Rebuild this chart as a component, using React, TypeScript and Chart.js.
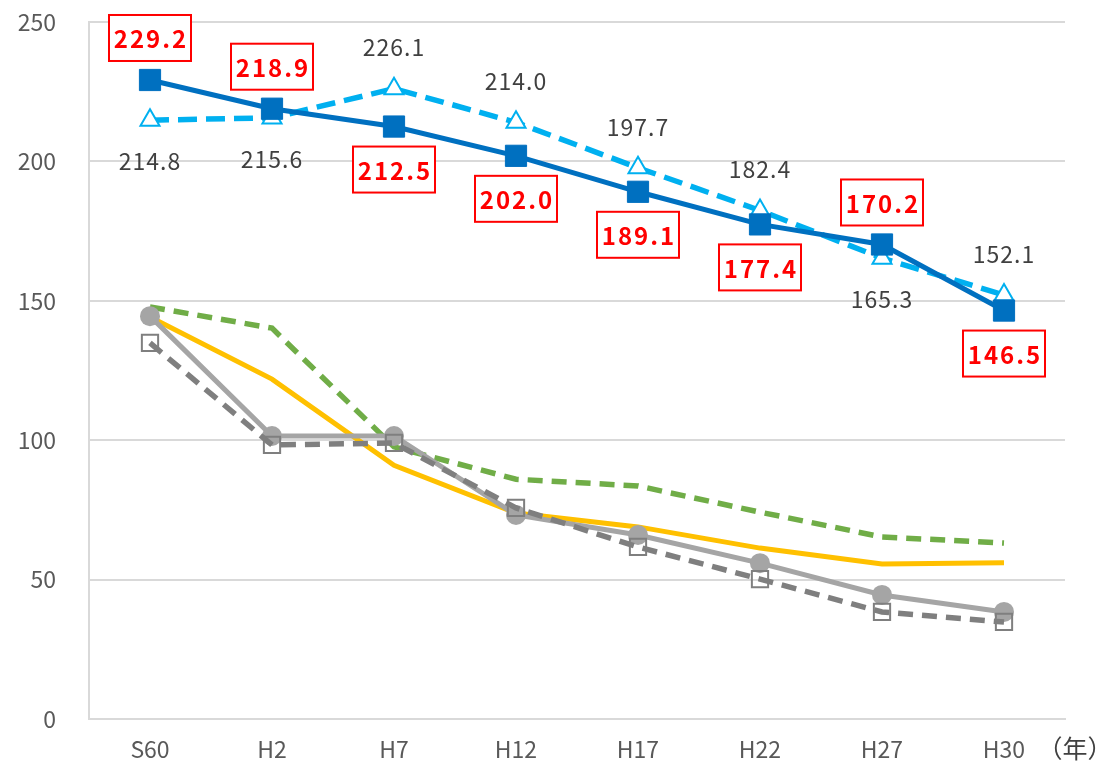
import React, { useEffect, useRef } from 'react';
import { Chart, registerables } from 'chart.js';

Chart.register(...registerables);

const categories = ['S60', 'H2', 'H7', 'H12', 'H17', 'H22', 'H27', 'H30'];
const seriesDarkBlue = [229.2, 218.9, 212.5, 202.0, 189.1, 177.4, 170.2, 146.5];
const seriesLightBlue = [214.8, 215.6, 226.1, 214.0, 197.7, 182.4, 165.3, 152.1];
const seriesGreen = [147.8, 140.2, 97.6, 86.0, 83.6, 74.2, 65.3, 63.1];
const seriesYellow = [144.2, 121.9, 91.0, 73.9, 68.9, 61.3, 55.6, 56.0];
const seriesGray = [144.5, 101.5, 101.5, 73.2, 66.0, 55.9, 44.5, 38.4];
const seriesDarkGray = [134.9, 98.3, 99.0, 75.7, 61.7, 50.2, 38.4, 34.8];
const labelPosDarkBlue = ['above', 'above', 'below', 'below', 'below', 'below', 'above', 'below'];
const labelPosLightBlue = ['below', 'below', 'above', 'above', 'above', 'above', 'below', 'above'];
const yMin = 0;
const yMax = 250;
const yStep = 50;
const unitLabel = '（年）';

const FONT = '"Noto Sans CJK JP", "Noto Sans", sans-serif';

const labelPlugin = {
  id: 'valueLabels',
  afterDatasetsDraw(chart: any) {
    const ctx = chart.ctx;
    const metaA = chart.getDatasetMeta(0);
    const metaB = chart.getDatasetMeta(1);
    ctx.save();
    ctx.textAlign = 'center';
    ctx.textBaseline = 'middle';
    ctx.font = `23px ${FONT}`;
    ctx.fillStyle = '#404040';
    (ctx as any).letterSpacing = '1px';
    metaB.data.forEach((pt: any, i: number) => {
      const dy = labelPosLightBlue[i] === 'above' ? -41 : 41;
      ctx.fillText(seriesLightBlue[i].toFixed(1), pt.x, pt.y + dy);
    });
    ctx.font = `bold 24px ${FONT}`;
    (ctx as any).letterSpacing = '2px';
    metaA.data.forEach((pt: any, i: number) => {
      const dy = labelPosDarkBlue[i] === 'above' ? -42 : 43;
      const cx = pt.x;
      const cy = pt.y + dy;
      const w = 82;
      const h = 46;
      ctx.fillStyle = '#ffffff';
      ctx.fillRect(cx - w / 2, cy - h / 2, w, h);
      ctx.strokeStyle = '#ff0000';
      ctx.lineWidth = 2;
      ctx.strokeRect(cx - w / 2, cy - h / 2, w, h);
      ctx.fillStyle = '#ff0000';
      ctx.fillText(seriesDarkBlue[i].toFixed(1), cx + 1, cy + 1);
    });
    ctx.restore();
  },
  afterDraw(chart: any) {
    const ctx = chart.ctx;
    ctx.save();
    ctx.font = '25px "Noto Sans CJK JP"';
    ctx.fillStyle = '#404040';
    ctx.textAlign = 'center';
    ctx.textBaseline = 'middle';
    ctx.fillText(unitLabel, 1075, 748);
    ctx.restore();
  },
};

export default function App() {
  const ref = useRef<HTMLCanvasElement | null>(null);
  useEffect(() => {
    document.body.style.margin = '0';
    if (!ref.current) return;
    const chart = new Chart(ref.current, {
      type: 'line',
      data: {
        labels: categories,
        datasets: [
          {
            data: seriesDarkBlue,
            borderColor: '#0070C0',
            borderWidth: 5,
            pointStyle: 'rect',
            pointRadius: 15,
            pointBackgroundColor: '#0070C0',
            pointBorderColor: '#0070C0',
            pointBorderWidth: 1,
            tension: 0,
          },
          {
            data: seriesLightBlue,
            borderColor: '#00B0F0',
            borderWidth: 5.5,
            borderDash: [19, 9],
            borderCapStyle: 'butt',
            pointStyle: 'triangle',
            pointRadius: 11,
            pointBackgroundColor: '#ffffff',
            pointBorderColor: '#00B0F0',
            pointBorderWidth: 2,
            tension: 0,
          },
          {
            data: seriesDarkGray,
            borderColor: '#7F7F7F',
            borderWidth: 5.5,
            borderDash: [15, 9],
            borderCapStyle: 'butt',
            pointStyle: 'rect',
            pointRadius: 11.5,
            pointBackgroundColor: 'rgba(255,255,255,0)',
            pointBorderColor: '#7F7F7F',
            pointBorderWidth: 2,
            tension: 0,
          },
          {
            data: seriesGray,
            borderColor: '#A5A5A5',
            borderWidth: 5,
            pointStyle: 'circle',
            pointRadius: 10,
            pointBackgroundColor: '#A5A5A5',
            pointBorderColor: '#A5A5A5',
            pointBorderWidth: 0,
            tension: 0,
          },
          {
            data: seriesYellow,
            borderColor: '#FFC000',
            borderWidth: 5,
            pointRadius: 0,
            tension: 0,
          },
          {
            data: seriesGreen,
            borderColor: '#70AD47',
            borderWidth: 5.5,
            borderDash: [15, 9],
            borderCapStyle: 'butt',
            pointRadius: 0,
            tension: 0,
          },
        ],
      },
      options: {
        animation: false,
        responsive: false,
        devicePixelRatio: 1,
        layout: { autoPadding: false, padding: { left: 0, top: 22, right: 43, bottom: 0 } },
        plugins: {
          legend: { display: false },
          tooltip: { enabled: false },
        },
        scales: {
          x: {
            offset: true,
            grid: { display: false, drawTicks: false },
            border: { display: true, color: '#d9d9d9', width: 2 },
            ticks: {
              color: '#595959',
              font: { family: FONT, size: 23 },
              padding: 16,
              maxRotation: 0,
            },
            afterFit: (s: any) => {
              s.height = 45;
              s.paddingLeft = 0;
              s.paddingRight = 0;
            },
          },
          y: {
            min: yMin,
            max: yMax,
            ticks: {
              stepSize: yStep,
              color: '#595959',
              font: { family: FONT, size: 23 },
              padding: 33,
            },
            grid: { color: '#d9d9d9', lineWidth: 2, drawTicks: false },
            border: { display: true, color: '#d9d9d9', width: 2 },
            afterFit: (s: any) => {
              s.width = 89;
              s.paddingTop = 0;
              s.paddingBottom = 0;
            },
          },
        },
      },
      plugins: [labelPlugin],
    } as any);
    return () => chart.destroy();
  }, []);
  return <canvas ref={ref} width={1108} height={764} style={{ display: 'block' }} />;
}
